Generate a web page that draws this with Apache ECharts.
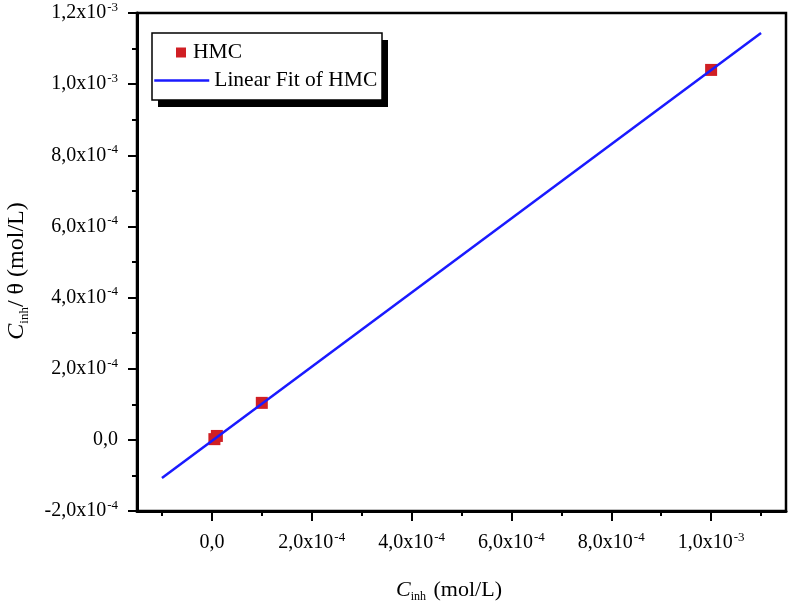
<!DOCTYPE html>
<html>
<head>
<meta charset="utf-8">
<script src="https://cdn.jsdelivr.net/npm/echarts@6/dist/echarts.min.js"></script>
<style>
html,body{margin:0;padding:0;background:#fff;}
#chart{width:791px;height:613px;}
</style>
</head>
<body>
<div id="chart"></div>
<script>
// ---- data ----
const hmcX = [5e-6, 1e-5, 1e-4, 1e-3];
const hmcY = [2e-6, 1.1e-5, 1.04e-4, 1.04e-3];
const fitX = [-1e-4, 1.1e-3];
const fitY = [-1.07e-4, 1.144e-3];

const xLabelValues = [0, 2e-4, 4e-4, 6e-4, 8e-4, 1e-3];
const xLabelTexts = ['0,0', '2,0x10^-4', '4,0x10^-4', '6,0x10^-4', '8,0x10^-4', '1,0x10^-3'];
const xMinorTickValues = [-1e-4, 1e-4, 3e-4, 5e-4, 7e-4, 9e-4, 1.1e-3];
const yLabelValues = [-2e-4, 0, 2e-4, 4e-4, 6e-4, 8e-4, 1e-3, 1.2e-3];
const yLabelTexts = ['-2,0x10^-4', '0,0', '2,0x10^-4', '4,0x10^-4', '6,0x10^-4', '8,0x10^-4', '1,0x10^-3', '1,2x10^-3'];

const FONT = '"Liberation Serif", "Times New Roman", serif';

function richLabel(values, texts) {
  return function (v) {
    let idx = -1;
    for (let i = 0; i < values.length; i++) {
      if (Math.abs(values[i] - v) < 1e-9) { idx = i; break; }
    }
    if (idx < 0) return '';
    const parts = texts[idx].split('^');
    if (parts.length === 1) return '{m|' + parts[0] + '}';
    return '{m|' + parts[0] + '}{e|' + parts[1] + '}';
  };
}
const labelRich = {
  m: { fontFamily: FONT, fontSize: 20, color: '#000', lineHeight: 24 },
  e: { fontFamily: FONT, fontSize: 13, color: '#000', verticalAlign: 'top', lineHeight: 13, padding: [0, 0, 0, 1] }
};

const chart = echarts.init(document.getElementById('chart'), null, { renderer: 'canvas' });

const option = {
  animation: false,
  backgroundColor: '#fff',
  grid: {
    left: 137, right: 5, top: 13, bottom: 102,
    show: true, borderColor: '#000', borderWidth: 2.5, backgroundColor: 'transparent'
  },
  xAxis: [
    {
      type: 'value', min: -1.5e-4, max: 1.15e-3, position: 'bottom',
      splitLine: { show: false },
      axisLine: { show: true, onZero: false, lineStyle: { color: '#000', width: 3 } },
      axisTick: { show: true, customValues: xMinorTickValues, length: 5, lineStyle: { color: '#000', width: 2 } },
      axisLabel: { show: false }
    },
    {
      type: 'value', min: -1.5e-4, max: 1.15e-3, position: 'bottom', offset: 0,
      splitLine: { show: false },
      axisLine: { show: false, onZero: false },
      axisTick: { show: true, customValues: xLabelValues, length: 10, lineStyle: { color: '#000', width: 2 } },
      axisLabel: {
        show: true, customValues: xLabelValues, margin: 20,
        formatter: richLabel(xLabelValues, xLabelTexts), rich: labelRich
      }
    }
  ],
  yAxis: {
    type: 'value', min: -2e-4, max: 1.2e-3, interval: 2e-4,
    splitLine: { show: false },
    axisLine: { show: true, onZero: false, lineStyle: { color: '#000', width: 3 } },
    axisTick: { show: true, length: 9, lineStyle: { color: '#000', width: 2 } },
    minorTick: { show: true, splitNumber: 2, length: 5, lineStyle: { color: '#000', width: 2 } },
    axisLabel: {
      margin: 19,
      formatter: richLabel(yLabelValues, yLabelTexts), rich: labelRich
    }
  },
  legend: [
    {
      data: [{ name: 'HMC', icon: 'rect' }],
      left: 176, top: 41, padding: 0, z: 10,
      itemWidth: 10, itemHeight: 10,
      itemStyle: { opacity: 1 },
      textStyle: { fontFamily: FONT, fontSize: 21.5, color: '#000', lineHeight: 23, padding: [0, 0, 0, 2] }
    },
    {
      data: [{ name: 'Linear Fit of HMC' }],
      left: 153, top: 69, padding: 0, z: 10,
      itemWidth: 55, itemHeight: 14, itemGap: 0,
      itemStyle: { opacity: 0 },
      lineStyle: { color: '#1a1aff', width: 2.5, opacity: 1 },
      textStyle: { fontFamily: FONT, fontSize: 21.5, color: '#000', lineHeight: 23 }
    }
  ],
  series: [
    {
      name: 'HMC', type: 'scatter', xAxisIndex: 0,
      symbol: 'rect', symbolSize: 12,
      itemStyle: { color: '#d01f24', opacity: 1 },
      data: hmcX.map((x, i) => [x, hmcY[i]]), z: 2
    },
    {
      name: 'Linear Fit of HMC', type: 'line', xAxisIndex: 0,
      symbol: 'none', showSymbol: false,
      lineStyle: { color: '#1a1aff', width: 2.5 },
      itemStyle: { color: '#1a1aff' },
      data: fitX.map((x, i) => [x, fitY[i]]), z: 3
    }
  ],
  graphic: [
    { type: 'rect', z: 8, shape: { x: 158, y: 40, width: 230, height: 67 }, style: { fill: '#000' } },
    { type: 'rect', z: 9, shape: { x: 152, y: 33, width: 230, height: 67 }, style: { fill: '#fff', stroke: '#000', lineWidth: 1.5 } },
    {
      type: 'text', z: 10, x: 449, y: 590,
      style: {
        text: '{c|C}{s|inh}{t| (mol/L)}',
        align: 'center', verticalAlign: 'middle',
        rich: {
          c: { fontFamily: FONT, fontStyle: 'italic', fontSize: 22, fill: '#000', lineHeight: 26 },
          s: { fontFamily: FONT, fontSize: 12, fill: '#000', verticalAlign: 'bottom', lineHeight: 12, padding: [0, 2, 0, 0] },
          t: { fontFamily: FONT, fontSize: 22, fill: '#000', lineHeight: 26 }
        }
      }
    },
    {
      type: 'text', z: 10, x: 17, y: 271, rotation: Math.PI / 2,
      style: {
        text: '{c|C}{s|inh}{t|/ θ (mol/L)}',
        align: 'center', verticalAlign: 'middle',
        rich: {
          c: { fontFamily: FONT, fontStyle: 'italic', fontSize: 24, fill: '#000', lineHeight: 28 },
          s: { fontFamily: FONT, fontSize: 13, fill: '#000', verticalAlign: 'bottom', lineHeight: 13 },
          t: { fontFamily: FONT, fontSize: 24, fill: '#000', lineHeight: 28 }
        }
      }
    }
  ]
};
chart.setOption(option);
</script>
</body>
</html>
